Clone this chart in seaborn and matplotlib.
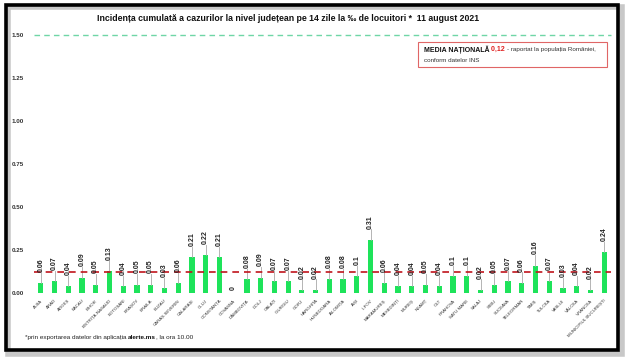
import matplotlib
matplotlib.use("Agg")
import matplotlib.pyplot as plt
import seaborn as sns
import pandas as pd
from matplotlib.patches import Rectangle

# date judetene - incidenta la 14 zile
judete = [
    "ALBA", "ARAD", "ARGEȘ", "BACĂU", "BIHOR", "BISTRIȚA-NĂSĂUD", "BOTOȘANI",
    "BRAȘOV", "BRĂILA", "BUZĂU", "CARAȘ-SEVERIN", "CĂLĂRAȘI", "CLUJ",
    "CONSTANȚA", "COVASNA", "DÂMBOVIȚA", "DOLJ", "GALAȚI", "GIURGIU", "GORJ",
    "HARGHITA", "HUNEDOARA", "IALOMIȚA", "IAȘI", "ILFOV", "MARAMUREȘ",
    "MEHEDINȚI", "MUREȘ", "NEAMȚ", "OLT", "PRAHOVA", "SATU MARE", "SĂLAJ",
    "SIBIU", "SUCEAVA", "TELEORMAN", "TIMIȘ", "TULCEA", "VASLUI", "VÂLCEA",
    "VRANCEA", "MUNICIPIUL BUCUREȘTI",
]
incidenta = [
    0.06, 0.07, 0.04, 0.09, 0.05, 0.13, 0.04, 0.05, 0.05, 0.03, 0.06, 0.21,
    0.22, 0.21, 0, 0.08, 0.09, 0.07, 0.07, 0.02, 0.02, 0.08, 0.08, 0.1, 0.31,
    0.06, 0.04, 0.04, 0.05, 0.04, 0.1, 0.1, 0.02, 0.05, 0.07, 0.06, 0.16,
    0.07, 0.03, 0.04, 0.02, 0.24,
]
media_nationala = 0.12
prag = 1.50
yticks = [0.00, 0.25, 0.50, 0.75, 1.00, 1.25, 1.50]

df = pd.DataFrame({"judet": judete, "incidenta": incidenta})

plt.rcParams["font.family"] = ["Liberation Sans", "DejaVu Sans"]

fig = plt.figure(figsize=(6.28, 3.61), dpi=100)
ax = fig.add_axes([0.054, 0.188, 0.919, 0.715])

sns.barplot(data=df, x="judet", y="incidenta", color="#1ee35a", width=0.38,
            saturation=1, ax=ax)

ax.set_ylim(0, 1.5)
ax.set_xlim(-0.5, len(judete) - 0.5)
ax.set_yticks(yticks)
ax.set_yticklabels([f"{v:.2f}" for v in yticks], fontsize=4.5,
                   fontweight="bold", color="#333333")
ax.set_xticks(range(len(judete)))
ax.set_xticklabels(judete, rotation=45, ha="right", rotation_mode="anchor",
                   fontsize=3.2, color="#333333")
ax.tick_params(length=0, pad=7)
ax.tick_params(axis="x", pad=4)
ax.set_xlabel("")
ax.set_ylabel("")
for s in ax.spines.values():
    s.set_visible(False)

# media nationala si pragul de 1.5
ax.axhline(media_nationala, color="#c0141c", lw=1.2, ls=(0, (4, 3)), zorder=5)
ax.axhline(prag, color="#6fd6a6", lw=1.0, ls=(0, (4, 3)), clip_on=False)

# etichete cu linii de legatura
lift = 0.065
for i, v in enumerate(incidenta):
    if v > 0:
        ax.plot([i, i], [v, v + lift - 0.005], color="#a8a8a8", lw=0.6, zorder=1)
    ax.text(i, v + lift if v > 0 else v + 0.02, f"{v:g}", rotation=90,
            ha="center", va="bottom", fontsize=5, fontweight="bold",
            color="#222222", zorder=6)

fig.text(0.458, 0.948, "Incidența cumulată a cazurilor la nivel județean pe 14 zile "
         "la ‰ de locuitori *  11 august 2021", ha="center", va="center",
         fontsize=6.3, fontweight="bold", color="#111111")

# caseta media nationala
fig.patches.append(Rectangle((0.666, 0.815), 0.301, 0.069, transform=fig.transFigure,
                             fill=False, edgecolor="#e06666", lw=0.8))
t1 = fig.text(0.675, 0.862, "MEDIA NAȚIONALĂ ", fontsize=5, fontweight="bold",
              va="center", color="#111111")
fig.canvas.draw()
bb = t1.get_window_extent().transformed(fig.transFigure.inverted())
t2 = fig.text(bb.x1, 0.862, "0,12 ", fontsize=5, fontweight="bold",
              va="center", color="#e02020")
fig.canvas.draw()
bb = t2.get_window_extent().transformed(fig.transFigure.inverted())
fig.text(bb.x1, 0.862, "- raportat la populația României,", fontsize=4.5,
         va="center", color="#333333")
fig.text(0.675, 0.832, "conform datelor INS", fontsize=4.5, va="center",
         color="#333333")

# nota de subsol
n1 = fig.text(0.04, 0.066, "*prin exportarea datelor din aplicația ", fontsize=4.6,
              va="center", color="#222222")
fig.canvas.draw()
bb = n1.get_window_extent().transformed(fig.transFigure.inverted())
n2 = fig.text(bb.x1, 0.066, "alerte.ms", fontsize=4.6, fontweight="bold",
              va="center", color="#111111")
fig.canvas.draw()
bb = n2.get_window_extent().transformed(fig.transFigure.inverted())
fig.text(bb.x1, 0.066, ", la ora 10.00", fontsize=4.6, va="center", color="#222222")

# chenar negru cu umbra
fig.patches.append(Rectangle((0.012, 0.02), 0.979, 0.96, transform=fig.transFigure,
                             fill=False, edgecolor="#c8c8c8", lw=4, zorder=-1))
fig.patches.append(Rectangle((0.009, 0.03), 0.975, 0.955, transform=fig.transFigure,
                             fill=False, edgecolor="black", lw=2.6))

fig.savefig("out.png", dpi=100)
